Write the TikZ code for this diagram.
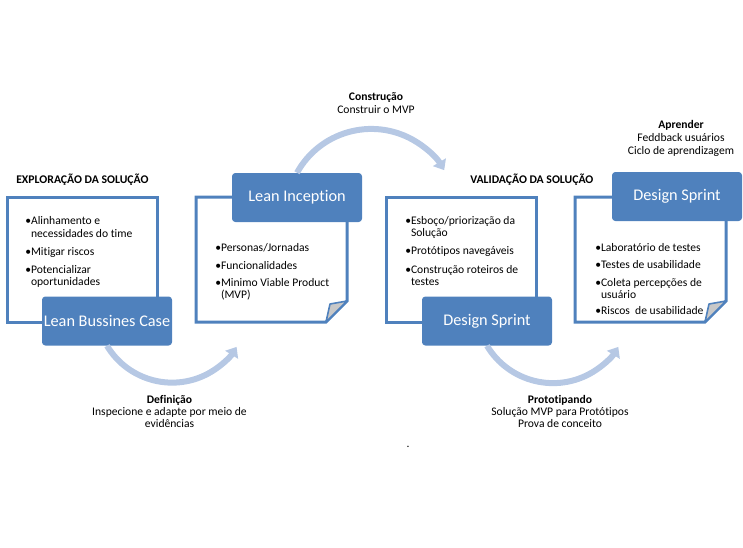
\documentclass[tikz,border=0pt]{standalone}
\usepackage{fontspec}
\setmainfont{Carlito}[Ligatures=CommonOff]
\usetikzlibrary{arrows.meta}
\definecolor{boxblue}{RGB}{79,129,189}
\definecolor{arcblue}{RGB}{182,200,228}
\definecolor{foldgray}{RGB}{200,200,200}
\newcommand{\bul}{\textbullet}
\newcommand{\cont}{\phantom{\textbullet}}

\begin{document}
\begin{tikzpicture}[x=0.75pt,y=-0.75pt,
    sheet/.style={draw=boxblue,line width=2.25pt},
    phase/.style={fill=boxblue,rounded corners=2.5pt,text=white,inner sep=0pt,
      minimum width=97.5pt,minimum height=36.75pt,font=\fontsize{12.2}{14}\selectfont},
    item/.style={anchor=base west,inner sep=0pt,font=\fontsize{8.7}{10}\selectfont},
    heading/.style={anchor=base west,inner sep=0pt,font=\bfseries\fontsize{8.8}{10}\selectfont},
    cyclelabel/.style={anchor=base,inner sep=0pt,font=\fontsize{8.7}{10}\selectfont},
    cyclearrow/.style={draw=arcblue,line width=4.5pt,-{Triangle[width=11pt,length=7pt]}}]
  \useasboundingbox (0,0) rectangle (743,547);
  % sheets behind the boxes
  \foreach \dx in {0,379}{
    \draw[sheet] (7+\dx,197) rectangle (157+\dx,322);
    \draw[sheet] (196+\dx,197) -- (347+\dx,197) -- (347+\dx,301) -- (326+\dx,322) -- (196+\dx,322) -- cycle;
    \draw[draw=boxblue,line width=1.2pt,fill=foldgray,line join=round] (326+\dx,322) -- (330+\dx,304) -- (347+\dx,301) -- cycle;
  }
  \node[phase] (bizcase) at (107,321) {Lean Bussines Case};
  \node[phase] (inception) at (297,197.5) {Lean Inception};
  \node[phase] (sprinta) at (487,321) {Design Sprint};
  \node[phase] (sprintb) at (677,196.5) {Design Sprint};
  % arcs between the phases
  \draw[cyclearrow] (bizcase.south) arc[start angle=149,end angle=32,radius=76];
  \draw[cyclearrow] (inception.north) arc[start angle=-151,end angle=-31,radius=85];
  \draw[cyclearrow] (sprinta.south) arc[start angle=149,end angle=32,radius=77];
  % headings
  \node[heading] (explora) at (16,183) {EXPLORAÇÃO DA SOLUÇÃO};
  \node[heading] (valida) at (470,183) {VALIDAÇÃO DA SOLUÇÃO};
  % bullet lists
  \foreach \y/\t [count=\i] in {224/{\bul Alinhamento e},237/{\cont necessidades do time},
      255/{\bul Mitigar riscos},273/{\bul Potencializar},285/{\cont oportunidades}}
    \node[item] (bc\i) at (25,\y) {\t};
  \foreach \y/\t [count=\i] in {251/{\bul Personas/Jornadas},269/{\bul Funcionalidades},
      286/{\bul Minimo Viable Product},298/{\cont (MVP)}}
    \node[item] (li\i) at (215,\y) {\t};
  \foreach \y/\t [count=\i] in {224/{\bul Esboço/priorização da},236/{\cont Solução},
      254/{\bul Protótipos navegáveis},273/{\bul Construção roteiros de},285/{\cont testes}}
    \node[item] (dsa\i) at (405,\y) {\t};
  \foreach \y/\t [count=\i] in {251/{\bul Laboratório de testes},268/{\bul Testes de usabilidade},
      286/{\bul Coleta percepções de},298/{\cont usuário},314/{\bul Riscos~ de usabilidade}}
    \node[item] (dsb\i) at (595,\y) {\t};
  % arc labels
  \node[cyclelabel,font=\bfseries\fontsize{8.7}{10}\selectfont] (constr) at (376,100) {Construção};
  \node[cyclelabel] (constr2) at (376,113) {Construir o MVP};
  \node[cyclelabel,font=\bfseries\fontsize{8.7}{10}\selectfont] (aprend) at (681,128) {Aprender};
  \node[cyclelabel] (aprend2) at (681,141) {Feddback usuários};
  \node[cyclelabel] (aprend3) at (681,154) {Ciclo de aprendizagem};
  \node[cyclelabel,font=\bfseries\fontsize{8.7}{10}\selectfont] (defin) at (169.5,403) {Definição};
  \node[cyclelabel] (defin2) at (169.5,415) {Inspecione e adapte por meio de};
  \node[cyclelabel] (defin3) at (169.5,427) {evidências};
  \node[cyclelabel,font=\bfseries\fontsize{8.7}{10}\selectfont] (proto) at (560,403) {Prototipando};
  \node[cyclelabel] (proto2) at (560,415) {Solução MVP para Protótipos};
  \node[cyclelabel] (proto3) at (560,427) {Prova de conceito};
  \node[cyclelabel] (dot) at (408,447) {.};
\end{tikzpicture}
\end{document}
